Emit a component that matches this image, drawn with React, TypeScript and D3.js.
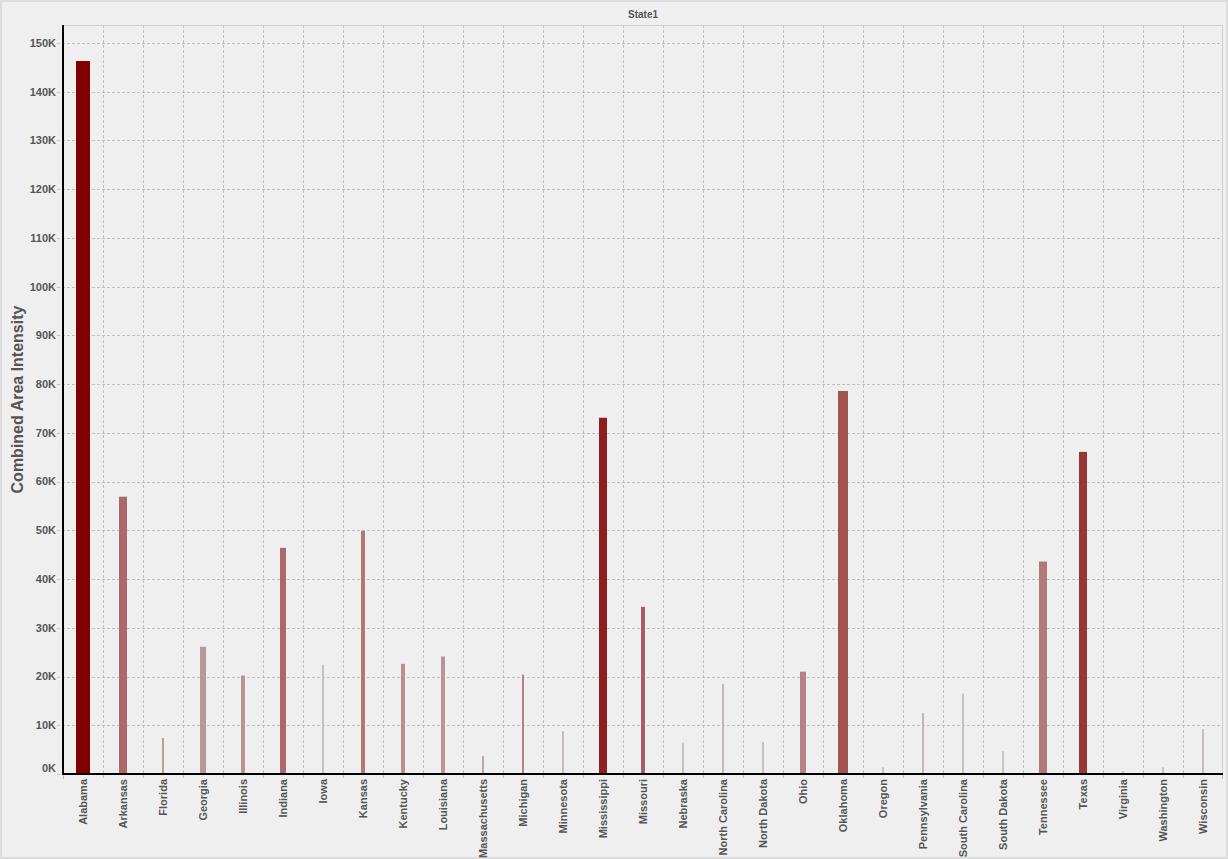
import React from "react";
import * as d3 from "d3";

const states = [
  "Alabama", "Arkansas", "Florida", "Georgia", "Illinois", "Indiana", "Iowa", "Kansas",
  "Kentucky", "Louisiana", "Massachusetts", "Michigan", "Minnesota", "Mississippi",
  "Missouri", "Nebraska", "North Carolina", "North Dakota", "Ohio", "Oklahoma", "Oregon",
  "Pennsylvania", "South Carolina", "South Dakota", "Tennessee", "Texas", "Virginia",
  "Washington", "Wisconsin",
];

// Combined Area Intensity (bar height)
const intensity = [
  146300, 56900, 7400, 26100, 20200, 46400, 22400, 49900,
  22600, 24100, 3700, 20400, 8800, 73100,
  34300, 6400, 18500, 6600, 21000, 78600, 1400,
  12500, 16500, 4700, 43600, 66100, 600,
  1400, 9200,
];

// secondary measure (bar width)
const eventCount = [
  7, 4, 1, 3, 2, 3, 1, 2,
  2, 2, 1, 1, 1, 4,
  2, 1, 1, 1, 3, 5, 1,
  1, 1, 1, 4, 4, 1,
  1, 1,
];

// tertiary measure (bar colour, 0..1)
const severity = [
  1.0, 0.53, 0.25, 0.27, 0.3, 0.53, 0.05, 0.46,
  0.32, 0.29, 0.2, 0.4, 0.07, 0.86,
  0.58, 0.04, 0.1, 0.03, 0.4, 0.63, 0.03,
  0.1, 0.05, 0.02, 0.45, 0.76, 0.02,
  0.02, 0.06,
];

const yTicks = d3.range(0, 150001, 10000);

const W = 1228;
const H = 859;
const left = 63;
const right = 1223;
const top = 25;
const bottom = 774;
const FONT = "'Liberation Sans', Arial, sans-serif";
const TXT = "#555";

export default function App() {
  const x = d3.scaleBand<string>().domain(states).range([left, right]).padding(0);
  const y = d3.scaleLinear().domain([0, 150000]).range([bottom, 43]);
  const wScale = d3.scaleLinear().domain([0, 7]).range([0, 14]);
  const cScale = d3
    .scaleLinear<string>()
    .domain([0, 0.5, 1])
    .range(["#c8c8c8", "#b07070", "#800000"])
    .interpolate(d3.interpolateRgb);

  const bw = x.bandwidth();

  return (
    <svg
      width={W}
      height={H}
      style={{ position: "absolute", left: 0, top: 0, background: "#efefef" }}
      fontFamily={FONT}
    >
      <rect x={1} y={1} width={W - 2} height={H - 2} fill="#efefef" stroke="#dcdcdc" strokeWidth={2} />

      {/* title */}
      <text x={(left + right) / 2} y={18} textAnchor="middle" fontSize={10} fontWeight="bold" fill={TXT}>
        State1
      </text>

      {/* plot frame */}
      <line x1={left} x2={right} y1={top + 0.5} y2={top + 0.5} stroke="#d0d0d0" strokeWidth={1} />
      <line x1={right - 0.5} x2={right - 0.5} y1={top} y2={bottom} stroke="#d0d0d0" strokeWidth={1} />

      {/* horizontal gridlines */}
      {yTicks.map((t) => (
        <line
          key={"h" + t}
          x1={left - 6}
          x2={right}
          y1={Math.round(y(t)) + 0.5}
          y2={Math.round(y(t)) + 0.5}
          stroke="#c0c0c0"
          strokeDasharray="3,2"
          strokeWidth={1}
        />
      ))}

      {/* vertical gridlines at band boundaries */}
      {states.map((s, i) => {
        const bx = (x(s) as number) + (i === 0 ? 0 : 0);
        if (i === 0) return null;
        return (
          <line
            key={"v" + s}
            x1={bx + 0.5}
            x2={bx + 0.5}
            y1={top}
            y2={bottom + 5}
            stroke="#c0c0c0"
            strokeDasharray="3,2"
            strokeWidth={1}
          />
        );
      })}
      <line x1={left + 0.5} x2={left + 0.5} y1={bottom} y2={bottom + 5} stroke="#c0c0c0" />
      <line x1={right - 0.5} x2={right - 0.5} y1={bottom} y2={bottom + 5} stroke="#c0c0c0" />

      {/* bars */}
      {states.map((s, i) => {
        const w = wScale(eventCount[i]);
        const cx = (x(s) as number) + bw / 2;
        const yt = y(intensity[i]);
        return (
          <rect
            key={"b" + s}
            x={cx - w / 2}
            y={yt}
            width={w}
            height={bottom - yt}
            fill={cScale(severity[i])}
          />
        );
      })}

      {/* axes */}
      <line x1={left} x2={left} y1={top} y2={bottom + 1} stroke="#000" strokeWidth={2} />
      <line x1={left} x2={right} y1={bottom} y2={bottom} stroke="#000" strokeWidth={2} />

      {/* y tick labels */}
      {yTicks.map((t) => (
        <text
          key={"yl" + t}
          x={56}
          y={t === 0 ? y(t) - 6 : y(t)}
          dy="0.35em"
          textAnchor="end"
          fontSize={11}
          fontWeight="bold"
          fill={TXT}
        >
          {t / 1000 + "K"}
        </text>
      ))}

      {/* y axis title */}
      <text
        transform={`translate(23,${(top + bottom) / 2}) rotate(-90)`}
        textAnchor="middle"
        fontSize={16}
        fontWeight="bold"
        fill={TXT}
      >
        Combined Area Intensity
      </text>

      {/* x labels */}
      {states.map((s) => {
        const cx = (x(s) as number) + bw / 2;
        return (
          <text
            key={"xl" + s}
            transform={`translate(${cx},${bottom + 5}) rotate(-90)`}
            textAnchor="end"
            dy="0.35em"
            fontSize={11}
            fontWeight="bold"
            fill={TXT}
          >
            {s}
          </text>
        );
      })}
    </svg>
  );
}
